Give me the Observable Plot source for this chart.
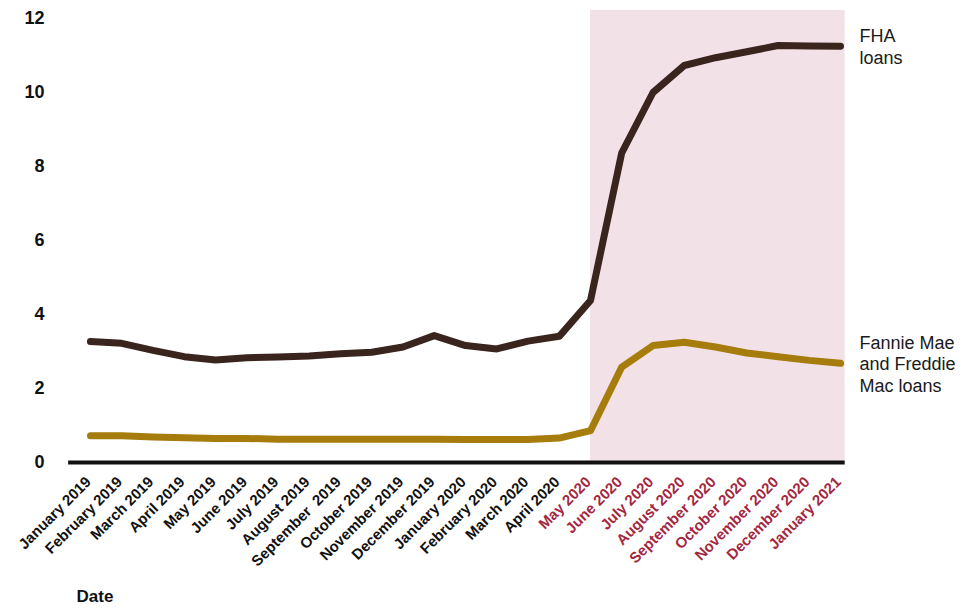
<!DOCTYPE html>
<html>
<head>
<meta charset="utf-8">
<script src="https://cdn.jsdelivr.net/npm/d3@7"></script>
<script src="https://cdn.jsdelivr.net/npm/@observablehq/plot@0.6"></script>
<style>
  html, body { margin: 0; padding: 0; background: #ffffff; }
  #chart svg { display: block; }
</style>
</head>
<body>
<div id="chart"></div>
<script>
const months = [
  "January 2019", "February 2019", "March 2019", "April 2019", "May 2019", "June 2019",
  "July 2019", "August 2019", "September  2019", "October 2019", "November 2019", "December 2019",
  "January 2020", "February 2020", "March 2020", "April 2020", "May 2020", "June 2020",
  "July 2020", "August 2020", "September 2020", "October 2020", "November 2020", "December 2020",
  "January 2021"
];
const fhaValues = [
  3.27, 3.22, 3.03, 2.86, 2.77, 2.83, 2.85, 2.88, 2.94, 2.98, 3.12, 3.43,
  3.16, 3.07, 3.28, 3.41, 4.38, 8.37, 10.0, 10.73, 10.94, 11.1, 11.27, 11.26, 11.25
];
const gseValues = [
  0.72, 0.72, 0.69, 0.67, 0.65, 0.65, 0.63, 0.63, 0.63, 0.63, 0.63, 0.63,
  0.62, 0.62, 0.62, 0.66, 0.86, 2.58, 3.16, 3.25, 3.12, 2.96, 2.86, 2.76, 2.68
];
const seriesLabels = ["FHA\nloans", "Fannie Mae\nand Freddie\nMac loans"];
const yTicks = [0, 2, 4, 6, 8, 10, 12];
const highlightStartMonth = "May 2020";
const xTitle = "Date";

const hiIdx = months.indexOf(highlightStartMonth);
const lastIdx = months.length - 1;
const fhaData = fhaValues.map((v, i) => ({i, v}));
const gseData = gseValues.map((v, i) => ({i, v}));
const labelData = [
  {i: lastIdx, v: fhaValues[lastIdx], t: seriesLabels[0]},
  {i: lastIdx, v: gseValues[lastIdx], t: seriesLabels[1]}
];
const tickData = months.map((m, i) => ({i, m, c: i >= hiIdx ? "#a3283f" : "#111111"}));

const FHA_COLOR = "#3a241e";
const GSE_COLOR = "#a67c0c";

const chart = Plot.plot({
  width: 970,
  height: 608,
  marginLeft: 90,
  marginRight: 130,
  marginTop: 18,
  marginBottom: 146,
  style: {fontFamily: "'Liberation Sans', Arial, sans-serif", background: "#ffffff"},
  x: {domain: [0, lastIdx], axis: null},
  y: {domain: [0, 12], axis: null},
  color: {type: "identity"},
  marks: [
    Plot.rectY([{x1: hiIdx, x2: lastIdx + 0.15}], {x1: "x1", x2: "x2", y1: 0, y2: 12.22, fill: "#f2e2e7"}),
    Plot.axisY({ticks: yTicks, tickSize: 0, tickPadding: 46, fontSize: 18, fontWeight: "bold", label: null, fill: "#111"}),
    Plot.ruleY([0], {x1: -0.7, x2: lastIdx + 0.15, stroke: "#111111", strokeWidth: 4}),
    Plot.line(gseData, {x: "i", y: "v", stroke: GSE_COLOR, strokeWidth: 7, strokeLinecap: "round", strokeLinejoin: "round"}),
    Plot.line(fhaData, {x: "i", y: "v", stroke: FHA_COLOR, strokeWidth: 7, strokeLinecap: "round", strokeLinejoin: "round"}),
    Plot.text(tickData, {x: "i", y: 0, text: "m", fill: "c", rotate: -45, textAnchor: "end", dx: -2, dy: 17, fontSize: 15, fontWeight: "bold"}),
    Plot.text(labelData, {x: "i", y: "v", text: "t", textAnchor: "start", dx: 19, fontSize: 18, lineHeight: 1.19, fill: "#1a1a1a"}),
    Plot.text([xTitle], {frameAnchor: "bottom-left", dx: -14, dy: 139, fontSize: 17, fontWeight: "bold", textAnchor: "start", fill: "#111"})
  ]
});
document.getElementById("chart").appendChild(chart);
</script>
</body>
</html>
